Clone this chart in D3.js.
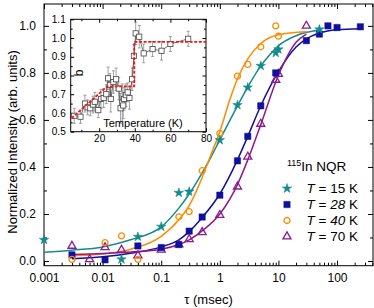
<!DOCTYPE html>
<html><head><meta charset="utf-8">
<script src="https://cdn.jsdelivr.net/npm/d3@7"></script>
<style>body{margin:0;background:#fff}svg{display:block;font-family:"Liberation Sans",Arial,sans-serif}</style>
</head><body><svg id="c" width="374" height="308"></svg>
<script>
// ---------- main data (tau in msec, normalized intensity) ----------
const tau15=[0.001,0.021,0.04,0.1,0.2,0.3,1,2,3,5,9,10,50];
const int15=[0.09,0.007,0.103,0.146,0.29,0.295,0.514,0.663,0.738,0.83,0.885,0.90,0.985];
const tau28=[0.003,0.011,0.04,0.1,0.2,0.3,0.5,1,2,3,5,9,30,50,70,100,250];
const int28=[0.026,0.005,0.064,0.057,0.07,0.127,0.187,0.28,0.426,0.53,0.66,0.80,0.937,0.965,1.0,0.993,0.996];
const tau40=[0.003,0.011,0.021,0.04,0.2,0.3,0.5,1,2,3,5,9,10];
const int40=[0.007,0.078,0.107,0.007,0.188,0.21,0.384,0.543,0.786,0.836,0.911,1.0,0.956];
const tau70=[0.003,0.006,0.011,0.021,0.04,0.1,0.2,0.3,0.5,1,2,3,5,9,10,30];
const int70=[0.064,0.007,0.058,0.047,0.023,0.048,0.07,0.092,0.122,0.195,0.316,0.443,0.583,0.77,0.795,1.0];
// fit curves
const fitTau15=[0.001,0.003,0.01,0.03,0.1,0.2,0.3,0.5,0.7,1,1.5,2,3,5,7,10,20,50];
const fitInt15=[0.037,0.046,0.06,0.09,0.145,0.225,0.285,0.375,0.44,0.515,0.6,0.66,0.74,0.83,0.875,0.915,0.958,0.982];
const fitTau28=[0.003,0.01,0.03,0.1,0.2,0.3,0.5,1,2,3,5,10,20,30,50,100,250];
const fitInt28=[0.01,0.018,0.033,0.06,0.09,0.125,0.185,0.285,0.43,0.53,0.66,0.805,0.91,0.945,0.97,0.984,0.988];
const fitTau40=[0.003,0.01,0.03,0.1,0.2,0.3,0.5,0.7,1,1.5,2,3,5,10,30];
const fitInt40=[0.022,0.03,0.05,0.105,0.175,0.235,0.355,0.45,0.55,0.69,0.775,0.86,0.925,0.962,0.975];
const fitTau70=[0.003,0.01,0.03,0.1,0.2,0.3,0.5,1,2,3,5,10,20,30];
const fitInt70=[0.028,0.032,0.038,0.05,0.07,0.09,0.128,0.2,0.325,0.43,0.58,0.79,0.93,0.965];
// legend
const legendTemps=["15","28","40","70"];
const legendItalicNum=[false,true,true,false];
const xTickLabels=["0.001","0.01","0.1","1","10","100"];
const yTickLabels=["0.0","0.2","0.4","0.6","0.8","1.0"];
// ---------- inset data (T in K, stretching exponent b) ----------
const insetT=[6,9.5,12,13.5,15,16.5,17.5,19.5,21,22.5,24,25,26,26.5,28,29.5,31,32,33,33.5,34,35,36,37,38.5,39.5,40.5,42.5,45,50,55,60,70];
const insetB=[0.585,0.58,0.65,0.63,0.625,0.645,0.66,0.615,0.675,0.68,0.70,0.785,0.75,0.675,0.765,0.78,0.73,0.625,0.655,0.64,0.675,0.695,0.71,0.68,0.78,0.905,1.025,1.007,0.918,0.941,0.932,0.968,0.996];
const insetErr=[0.04,0.035,0.045,0.04,0.04,0.045,0.05,0.04,0.05,0.05,0.05,0.06,0.06,0.07,0.06,0.06,0.06,0.08,0.1,0.07,0.06,0.06,0.05,0.06,0.06,0.06,0.06,0.06,0.05,0.04,0.05,0.04,0.04];
const insetFitT=[4.5,24.5,39.7,39.7,80];
const insetFitB=[0.572,0.742,0.742,0.98,0.98];
const insetXTicks=[20,40,60,80];
const insetYTicks=[0.5,0.6,0.7,0.8,0.9,1.0,1.1];

const svg=d3.select("#c");
const L=44,R=373,T=4,B=265.7;
const x=d3.scaleLog().domain([0.001,411]).range([L,R]);
const y=d3.scaleLinear().domain([-0.02,1.093]).range([B,T]);

const col={c15:"#168a8a",c28:"#10109e",c40:"#ff8a00",c70:"#8c1a8c"};

const majX=[0.001,0.01,0.1,1,10,100];
const minX=[];
for(let e=-3;e<=2;e++){for(let k=2;k<=9;k++){const v=k*Math.pow(10,e);if(v<=411)minX.push(v);}}
const majY=[0,0.2,0.4,0.6,0.8,1.0];
const minY=[0.1,0.3,0.5,0.7,0.9];

function styleAxis(g){g.select(".domain").remove();g.selectAll("line").attr("stroke","#000");g.selectAll("text").attr("fill","#000").style("font-size","12px").style("font-family","Liberation Sans, Arial, sans-serif");}

svg.append("g").attr("transform",`translate(0,${B})`).call(d3.axisBottom(x).tickValues(majX).tickSize(-5).tickPadding(8).tickFormat((d,i)=>xTickLabels[i])).call(styleAxis);
svg.append("g").attr("transform",`translate(0,${B})`).call(d3.axisBottom(x).tickValues(minX).tickSize(-3).tickFormat("")).call(styleAxis);
svg.append("g").attr("transform",`translate(0,${T})`).call(d3.axisTop(x).tickValues(majX).tickSize(-5).tickFormat("")).call(styleAxis);
svg.append("g").attr("transform",`translate(0,${T})`).call(d3.axisTop(x).tickValues(minX).tickSize(-3).tickFormat("")).call(styleAxis);
svg.append("g").attr("transform",`translate(${L},0)`).call(d3.axisLeft(y).tickValues(majY).tickSize(-5).tickPadding(8).tickFormat((d,i)=>yTickLabels[i])).call(styleAxis);
svg.append("g").attr("transform",`translate(${L},0)`).call(d3.axisLeft(y).tickValues(minY).tickSize(-3).tickFormat("")).call(styleAxis);
svg.append("g").attr("transform",`translate(${R},0)`).call(d3.axisRight(y).tickValues(majY).tickSize(-5).tickFormat("")).call(styleAxis);
svg.append("g").attr("transform",`translate(${R},0)`).call(d3.axisRight(y).tickValues(minY).tickSize(-3).tickFormat("")).call(styleAxis);

svg.append("rect").attr("x",L).attr("y",T).attr("width",R-L).attr("height",B-T).attr("fill","none").attr("stroke","#000").attr("stroke-width",1);

svg.append("text").attr("x",(L+R)/2).attr("y",304).attr("text-anchor","middle").style("font-size","13px").text("τ (msec)");
svg.append("text").attr("transform","translate(17,142) rotate(-90)").attr("text-anchor","middle").style("font-size","13px").text("Normalized Intensity (arb. units)");

const line=d3.line().x(d=>x(d[0])).y(d=>y(d[1])).curve(d3.curveMonotoneX);
const fits=[[fitTau15,fitInt15,col.c15],[fitTau40,fitInt40,col.c40],[fitTau28,fitInt28,col.c28],[fitTau70,fitInt70,col.c70]];
fits.forEach(([tt,vv,c])=>{
  svg.append("path").datum(tt.map((t,i)=>[t,vv[i]])).attr("d",line).attr("fill","none").attr("stroke",c).attr("stroke-width",1.5);
});

const symStar=d3.symbol().type(d3.symbolStar).size(28);
const symSq=d3.symbol().type(d3.symbolSquare).size(40);
const symCirc=d3.symbol().type(d3.symbolCircle).size(28);
const symTri=d3.symbol().type(d3.symbolTriangle).size(28);
function plotPts(tt,vv,sym,c,filled){
  svg.append("g").selectAll("path").data(tt.map((t,i)=>[t,vv[i]])).join("path")
    .attr("transform",d=>`translate(${x(d[0])},${y(d[1])})`).attr("d",sym)
    .attr("fill",filled?c:"none").attr("stroke",c).attr("stroke-width",filled?0.5:1.3);
}
plotPts(tau70,int70,symTri,col.c70,false);
plotPts(tau28,int28,symSq,col.c28,true);
plotPts(tau40,int40,symCirc,col.c40,false);
plotPts(tau15,int15,symStar,col.c15,true);

const lg=svg.append("g");
const ht=lg.append("text").attr("x",287).attr("y",170.5).style("font-size","13.5px");
ht.append("tspan").style("font-size","9px").attr("dy","-5").text("115");
ht.append("tspan").attr("dy","5").text("In NQR");
const lsyms=[[symStar,col.c15,true],[symSq,col.c28,true],[symCirc,col.c40,false],[symTri,col.c70,false]];
legendTemps.forEach((tv,i)=>{
  const yy=188.5+i*16;
  const [s,c,f]=lsyms[i];
  lg.append("path").attr("transform",`translate(287,${yy})`).attr("d",s).attr("fill",f?c:"none").attr("stroke",c).attr("stroke-width",f?0.5:1.3);
  const t=lg.append("text").attr("x",306.5).attr("y",yy+4.8).style("font-size","13.5px");
  t.append("tspan").style("font-style","italic").text("T");
  t.append("tspan").text(" = ");
  t.append("tspan").style("font-style",legendItalicNum[i]?"italic":"normal").text(tv);
  t.append("tspan").text(" K");
});

// ---------- inset ----------
const iL=70.7,iR=206,iT=19.3,iB=131.7;
const ix=d3.scaleLinear().domain([4,80]).range([iL,iR]);
const iy=d3.scaleLinear().domain([0.5,1.1]).range([iB,iT]);
const ins=svg.append("g");
ins.append("rect").attr("x",iL).attr("y",iT).attr("width",iR-iL).attr("height",iB-iT).attr("fill","#fff");
function styleIn(g){g.select(".domain").remove();g.selectAll("line").attr("stroke","#000");g.selectAll("text").attr("fill","#000").style("font-size","10px").style("font-family","Liberation Sans, Arial, sans-serif");}
const inMinX=[10,30,50,70];
const inMinY=[0.55,0.65,0.75,0.85,0.95,1.05];
ins.append("g").attr("transform",`translate(0,${iB})`).call(d3.axisBottom(ix).tickValues(insetXTicks).tickSize(-3.5).tickPadding(3).tickFormat(d3.format("d"))).call(styleIn);
ins.append("g").attr("transform",`translate(0,${iB})`).call(d3.axisBottom(ix).tickValues(inMinX).tickSize(-2).tickFormat("")).call(styleIn);
ins.append("g").attr("transform",`translate(0,${iT})`).call(d3.axisTop(ix).tickValues(insetXTicks).tickSize(-3.5).tickFormat("")).call(styleIn);
ins.append("g").attr("transform",`translate(0,${iT})`).call(d3.axisTop(ix).tickValues(inMinX).tickSize(-2).tickFormat("")).call(styleIn);
ins.append("g").attr("transform",`translate(${iL},0)`).call(d3.axisLeft(iy).tickValues(insetYTicks).tickSize(-3.5).tickPadding(5).tickFormat(d3.format(".1f"))).call(styleIn);
ins.append("g").attr("transform",`translate(${iL},0)`).call(d3.axisLeft(iy).tickValues(inMinY).tickSize(-2).tickFormat("")).call(styleIn);
ins.append("g").attr("transform",`translate(${iR},0)`).call(d3.axisRight(iy).tickValues(insetYTicks).tickSize(-3.5).tickFormat("")).call(styleIn);
ins.append("g").attr("transform",`translate(${iR},0)`).call(d3.axisRight(iy).tickValues(inMinY).tickSize(-2).tickFormat("")).call(styleIn);
ins.append("rect").attr("x",iL).attr("y",iT).attr("width",iR-iL).attr("height",iB-iT).attr("fill","none").attr("stroke","#000").attr("stroke-width",1);

const ipts=insetT.map((t,i)=>({t,b:insetB[i],e:insetErr[i]}));
const eb=ins.append("g").attr("stroke","#8a8a8a").attr("stroke-width",0.8);
ipts.forEach(p=>{
  const xx=ix(p.t);
  eb.append("line").attr("x1",xx).attr("x2",xx).attr("y1",iy(p.b-p.e)).attr("y2",iy(p.b+p.e));
  eb.append("line").attr("x1",xx-1.5).attr("x2",xx+1.5).attr("y1",iy(p.b-p.e)).attr("y2",iy(p.b-p.e));
  eb.append("line").attr("x1",xx-1.5).attr("x2",xx+1.5).attr("y1",iy(p.b+p.e)).attr("y2",iy(p.b+p.e));
});
ins.append("path").datum(ipts).attr("d",d3.line().x(d=>ix(d.t)).y(d=>iy(d.b))).attr("fill","none").attr("stroke","#333").attr("stroke-width",0.7);
ins.append("g").selectAll("rect").data(ipts).join("rect")
  .attr("x",d=>ix(d.t)-2.6).attr("y",d=>iy(d.b)-2.6).attr("width",5.2).attr("height",5.2)
  .attr("fill","#fff").attr("stroke","#444").attr("stroke-width",0.8);
ins.append("path").datum(insetFitT.map((t,i)=>[t,insetFitB[i]])).attr("d",d3.line().x(d=>ix(d[0])).y(d=>iy(d[1])))
  .attr("fill","none").attr("stroke","#f01818").attr("stroke-width",1.8).attr("stroke-dasharray","3,1.6");
ins.append("text").attr("transform","translate(83,73) rotate(-90)").attr("text-anchor","middle").style("font-size","12px").text("b");
ins.append("text").attr("x",143).attr("y",127).attr("text-anchor","middle").style("font-size","11px").text("Temperature (K)");
</script></body></html>
